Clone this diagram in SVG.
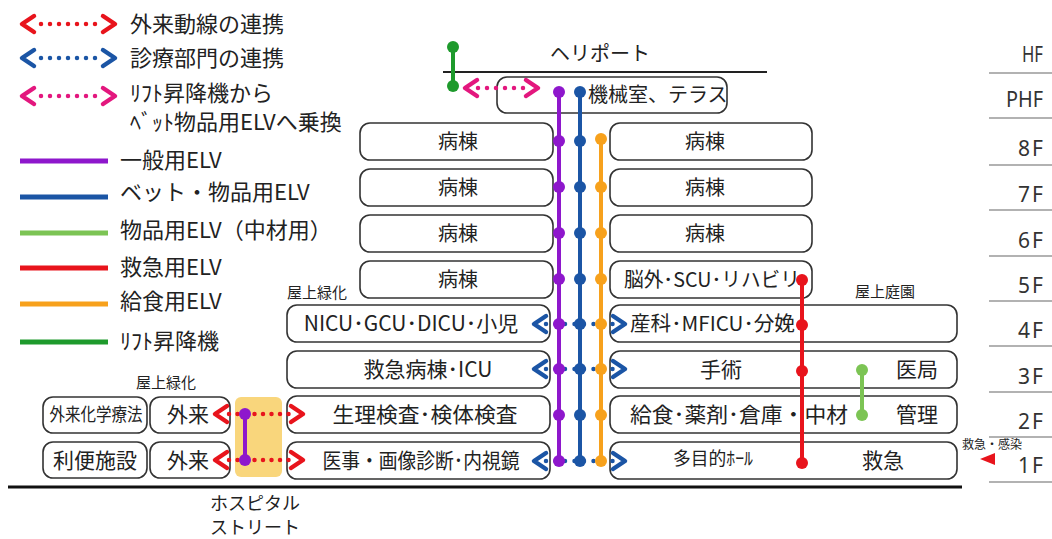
<svg xmlns="http://www.w3.org/2000/svg" xmlns:xlink="http://www.w3.org/1999/xlink" width="1052" height="539" viewBox="0 0 1052 539">
<defs>
<style>
text{font-family:'Noto Sans CJK JP','Noto Sans',sans-serif;fill:#222}
.box{fill:#fff;stroke:#333;stroke-width:1.6}
.t20{font-size:20px}
.t21{font-size:21px}
.lg{font-size:22px}
.sm{font-size:15px}
.fl{font-family:'Noto Sans','Noto Sans CJK JP',sans-serif;font-size:21px;fill:#333;text-anchor:end}
.fline{stroke:#999;stroke-width:1.5}
.ch{fill:none;stroke-width:4.5;stroke-linecap:round;stroke-linejoin:round}
.dot{fill:none;stroke-width:4.5;stroke-linecap:round}
.red{stroke:#e8141c}
.blu{stroke:#1b55a5}
.mag{stroke:#e3177e}
.elv{stroke-width:4;fill:none}
.pur{stroke:#8e17cc}
.pf{fill:#8e17cc}
.bf{fill:#1b55a5}
.org{stroke:#f7a11c}
.of{fill:#f7a11c}
.rf{fill:#e8141c}
.lgr{stroke:#7cc454}
.lgf{fill:#7cc454}
.dgr{stroke:#1e9a2c}
.dgf{fill:#1e9a2c}
.mid{text-anchor:middle}
</style>
<path id="chL" d="M6,-8 L-6,0 L6,8"/>
<path id="chR" d="M-6,-8 L6,0 L-6,8"/>
</defs>

<g id="legend">
<use href="#chL" x="28" y="24" class="ch red"/>
<line x1="41" y1="24" x2="97" y2="24" class="dot red" stroke-dasharray="0 9"/>
<use href="#chR" x="109" y="24" class="ch red"/>
<text x="130" y="32" class="lg">外来動線の連携</text>
<use href="#chL" x="28" y="58" class="ch blu"/>
<line x1="41" y1="58" x2="97" y2="58" class="dot blu" stroke-dasharray="0 9"/>
<use href="#chR" x="109" y="58" class="ch blu"/>
<text x="130" y="66" class="lg">診療部門の連携</text>
<use href="#chL" x="28" y="96" class="ch mag"/>
<line x1="41" y1="96" x2="97" y2="96" class="dot mag" stroke-dasharray="0 9"/>
<use href="#chR" x="109" y="96" class="ch mag"/>
<text x="130" y="101" class="lg">ﾘﾌﾄ昇降機から</text>
<text x="130" y="130" class="lg">ﾍﾞｯﾄ物品用ELVへ乗換</text>
<line x1="20" y1="161" x2="108" y2="161" stroke="#8e17cc" stroke-width="5"/>
<text x="120" y="168" class="lg">一般用ELV</text>
<line x1="20" y1="197" x2="108" y2="197" stroke="#1b55a5" stroke-width="5"/>
<text x="120" y="200" class="lg">ベット・物品用ELV</text>
<line x1="20" y1="233" x2="108" y2="233" stroke="#7cc454" stroke-width="5"/>
<text x="120" y="238" class="lg">物品用ELV（中材用）</text>
<line x1="20" y1="268" x2="108" y2="268" stroke="#e8141c" stroke-width="5"/>
<text x="120" y="275" class="lg">救急用ELV</text>
<line x1="20" y1="304" x2="108" y2="304" stroke="#f7a11c" stroke-width="5"/>
<text x="120" y="309" class="lg">給食用ELV</text>
<line x1="20" y1="342" x2="108" y2="342" stroke="#1e9a2c" stroke-width="5"/>
<text x="120" y="349" class="lg">ﾘﾌﾄ昇降機</text>
</g>

<g id="floors">
<line x1="989" y1="73" x2="1052" y2="73" class="fline"/>
<line x1="989" y1="118" x2="1052" y2="118" class="fline"/>
<line x1="989" y1="165" x2="1052" y2="165" class="fline"/>
<line x1="989" y1="210" x2="1052" y2="210" class="fline"/>
<line x1="989" y1="256" x2="1052" y2="256" class="fline"/>
<line x1="989" y1="301" x2="1052" y2="301" class="fline"/>
<line x1="989" y1="346" x2="1052" y2="346" class="fline"/>
<line x1="989" y1="392" x2="1052" y2="392" class="fline"/>
<line x1="989" y1="437" x2="1052" y2="437" class="fline"/>
<line x1="989" y1="482" x2="1052" y2="482" class="fline"/>
<text x="1043" y="62" class="fl" textLength="21" lengthAdjust="spacingAndGlyphs">HF</text>
<text x="1043" y="107" class="fl" textLength="37" lengthAdjust="spacingAndGlyphs">PHF</text>
<text x="1043" y="156" class="fl">8<tspan dx="2">F</tspan></text>
<text x="1043" y="202" class="fl">7<tspan dx="2">F</tspan></text>
<text x="1043" y="248" class="fl">6<tspan dx="2">F</tspan></text>
<text x="1043" y="293" class="fl">5<tspan dx="2">F</tspan></text>
<text x="1043" y="338" class="fl">4<tspan dx="2">F</tspan></text>
<text x="1043" y="384" class="fl">3<tspan dx="2">F</tspan></text>
<text x="1043" y="429" class="fl">2<tspan dx="2">F</tspan></text>
<text x="1043" y="473" class="fl">1<tspan dx="2">F</tspan></text>
</g>

<g id="heliport">
<line x1="443" y1="72" x2="767" y2="72" stroke="#222" stroke-width="2"/>
<text x="600" y="61" class="t20 mid">ヘリポート</text>
</g>

<g id="kikai">
<rect x="497" y="77" width="230" height="36" rx="10" class="box"/>
<text x="588" y="102" class="t20">機械室、テラス</text>
</g>

<g id="street">
<rect x="235" y="397" width="47" height="80" rx="6" fill="#f9d67c"/>
<text x="255" y="510" class="mid" font-size="18">ホスピタル</text>
<text x="255" y="534" class="mid" font-size="18">ストリート</text>
</g>

<g id="left-boxes">
<rect x="360" y="123" width="193" height="37" rx="10" class="box"/>
<text x="458" y="148.5" class="t20 mid">病棟</text>
<rect x="360" y="169" width="193" height="37" rx="10" class="box"/>
<text x="458" y="194.5" class="t20 mid">病棟</text>
<rect x="360" y="215" width="193" height="37" rx="10" class="box"/>
<text x="458" y="240.5" class="t20 mid">病棟</text>
<rect x="360" y="261" width="193" height="37" rx="10" class="box"/>
<text x="458" y="286.5" class="t20 mid">病棟</text>
<rect x="287" y="305" width="263" height="37" rx="10" class="box"/>
<text x="411" y="331" class="t21 mid">NICU･GCU･DICU･小児</text>
<rect x="287" y="351" width="263" height="37" rx="10" class="box"/>
<text x="428" y="377" class="t21 mid">救急病棟･ICU</text>
<rect x="287" y="396" width="263" height="37" rx="10" class="box"/>
<text x="425" y="422" class="t21 mid" textLength="185" lengthAdjust="spacingAndGlyphs">生理検査･検体検査</text>
<rect x="287" y="442" width="263" height="37" rx="10" class="box"/>
<text x="421" y="468" class="t21 mid" textLength="197" lengthAdjust="spacingAndGlyphs">医事・画像診断･内視鏡</text>
<text x="287" y="298" class="sm">屋上緑化</text>
</g>

<g id="right-boxes">
<rect x="610" y="123" width="202" height="37" rx="10" class="box"/>
<text x="705" y="148.5" class="t20 mid">病棟</text>
<rect x="610" y="169" width="202" height="37" rx="10" class="box"/>
<text x="705" y="194.5" class="t20 mid">病棟</text>
<rect x="610" y="215" width="202" height="37" rx="10" class="box"/>
<text x="705" y="240.5" class="t20 mid">病棟</text>
<rect x="610" y="261" width="202" height="37" rx="10" class="box"/>
<text x="624" y="286.5" class="t20" textLength="176" lengthAdjust="spacingAndGlyphs">脳外･SCU･リハビリ</text>
<rect x="610" y="305" width="347" height="37" rx="10" class="box"/>
<text x="630" y="331" class="t20" textLength="165" lengthAdjust="spacingAndGlyphs">産科･MFICU･分娩</text>
<rect x="610" y="351" width="347" height="37" rx="10" class="box"/>
<text x="700" y="377" class="t21">手術</text>
<text x="896" y="377" class="t21">医局</text>
<rect x="610" y="396" width="347" height="37" rx="10" class="box"/>
<text x="630" y="422" class="t21" textLength="218" lengthAdjust="spacingAndGlyphs">給食･薬剤･倉庫・中材</text>
<text x="896" y="422" class="t21">管理</text>
<rect x="610" y="442" width="347" height="37" rx="10" class="box"/>
<text x="673" y="465" font-size="18" textLength="80" lengthAdjust="spacingAndGlyphs">多目的ﾎｰﾙ</text>
<text x="862" y="468" class="t21">救急</text>
<text x="855" y="297" class="sm">屋上庭園</text>
</g>

<g id="outpatient">
<rect x="43" y="397" width="104" height="36" rx="10" class="box"/>
<text x="96" y="421" class="mid" font-size="18" textLength="93" lengthAdjust="spacingAndGlyphs">外来化学療法</text>
<rect x="150" y="397" width="80" height="36" rx="10" class="box"/>
<text x="167" y="422" class="t21">外来</text>
<rect x="43" y="442" width="104" height="36" rx="10" class="box"/>
<text x="95" y="468" class="t21 mid">利便施設</text>
<rect x="150" y="442" width="80" height="36" rx="10" class="box"/>
<text x="167" y="468" class="t21">外来</text>
<text x="166" y="388" class="sm mid">屋上緑化</text>
</g>

<g id="ground">
<line x1="8" y1="487" x2="962" y2="487" stroke="#111" stroke-width="3"/>
<text x="962" y="449" font-size="12">救急・感染</text>
<polygon points="980,459 995,453 995,465" fill="#e8141c"/>
</g>

<g id="connectors">
<!-- red outpatient flows -->
<line x1="229" y1="414" x2="291" y2="414" class="dot red" stroke-width="4" stroke-dasharray="0 8.5"/>
<line x1="229" y1="460" x2="291" y2="460" class="dot red" stroke-width="4" stroke-dasharray="0 8.5"/>
<use href="#chL" x="221" y="414" class="ch red"/>
<use href="#chL" x="221" y="460" class="ch red"/>
<use href="#chR" x="297" y="414" class="ch red"/>
<use href="#chR" x="297" y="460" class="ch red"/>
<line x1="245" y1="414" x2="245" y2="460" class="elv pur"/>
<circle cx="245" cy="414" r="6" class="pf"/>
<circle cx="245" cy="460" r="6" class="pf"/>

<!-- blue department links -->
<line x1="546" y1="324" x2="614" y2="324" class="dot blu" stroke-width="4" stroke-dasharray="0 9.5"/>
<line x1="546" y1="369" x2="614" y2="369" class="dot blu" stroke-width="4" stroke-dasharray="0 9.5"/>
<line x1="546" y1="461" x2="614" y2="461" class="dot blu" stroke-width="4" stroke-dasharray="0 9.5"/>
<use href="#chL" x="540" y="324" class="ch blu"/>
<use href="#chL" x="540" y="369" class="ch blu"/>
<use href="#chL" x="540" y="461" class="ch blu"/>
<use href="#chR" x="619" y="324" class="ch blu"/>
<use href="#chR" x="619" y="369" class="ch blu"/>
<use href="#chR" x="619" y="461" class="ch blu"/>

<!-- general ELV -->
<line x1="559" y1="92" x2="559" y2="461" class="elv pur"/>
<g class="pf">
<circle cx="559" cy="92" r="6"/><circle cx="559" cy="141" r="6"/><circle cx="559" cy="187" r="6"/><circle cx="559" cy="233" r="6"/><circle cx="559" cy="279" r="6"/><circle cx="559" cy="324" r="6"/><circle cx="559" cy="369" r="6"/><circle cx="559" cy="415" r="6"/><circle cx="559" cy="461" r="6"/>
</g>
<!-- bed/goods ELV -->
<line x1="580" y1="92" x2="580" y2="461" class="elv blu"/>
<g class="bf">
<circle cx="580" cy="92" r="6"/><circle cx="580" cy="141" r="6"/><circle cx="580" cy="187" r="6"/><circle cx="580" cy="233" r="6"/><circle cx="580" cy="279" r="6"/><circle cx="580" cy="324" r="6"/><circle cx="580" cy="369" r="6"/><circle cx="580" cy="415" r="6"/><circle cx="580" cy="461" r="6"/>
</g>
<!-- food ELV -->
<line x1="601" y1="139" x2="601" y2="461" class="elv org"/>
<g class="of">
<circle cx="601" cy="139" r="6"/><circle cx="601" cy="187" r="6"/><circle cx="601" cy="233" r="6"/><circle cx="601" cy="279" r="6"/><circle cx="601" cy="324" r="6"/><circle cx="601" cy="369" r="6"/><circle cx="601" cy="415" r="6"/><circle cx="601" cy="461" r="6"/>
</g>
<!-- emergency ELV -->
<line x1="802" y1="280" x2="802" y2="463" class="elv red"/>
<g class="rf">
<circle cx="802" cy="280" r="6"/><circle cx="802" cy="325" r="6"/><circle cx="802" cy="371" r="6"/><circle cx="802" cy="463" r="6"/>
</g>
<!-- goods ELV (supply) -->
<line x1="862" y1="370" x2="862" y2="415" class="elv lgr"/>
<circle cx="862" cy="370" r="6" class="lgf"/>
<circle cx="862" cy="415" r="6" class="lgf"/>
<!-- lift -->
<line x1="453" y1="47" x2="453" y2="86" class="elv dgr"/>
<circle cx="453" cy="47" r="6" class="dgf"/>
<circle cx="453" cy="86" r="6" class="dgf"/>
<line x1="478" y1="88" x2="526" y2="88" class="dot mag" stroke-width="4" stroke-dasharray="0 9"/>
<use href="#chL" x="471" y="88" class="ch mag"/>
<use href="#chR" x="532" y="88" class="ch mag"/>
</g>
</svg>
